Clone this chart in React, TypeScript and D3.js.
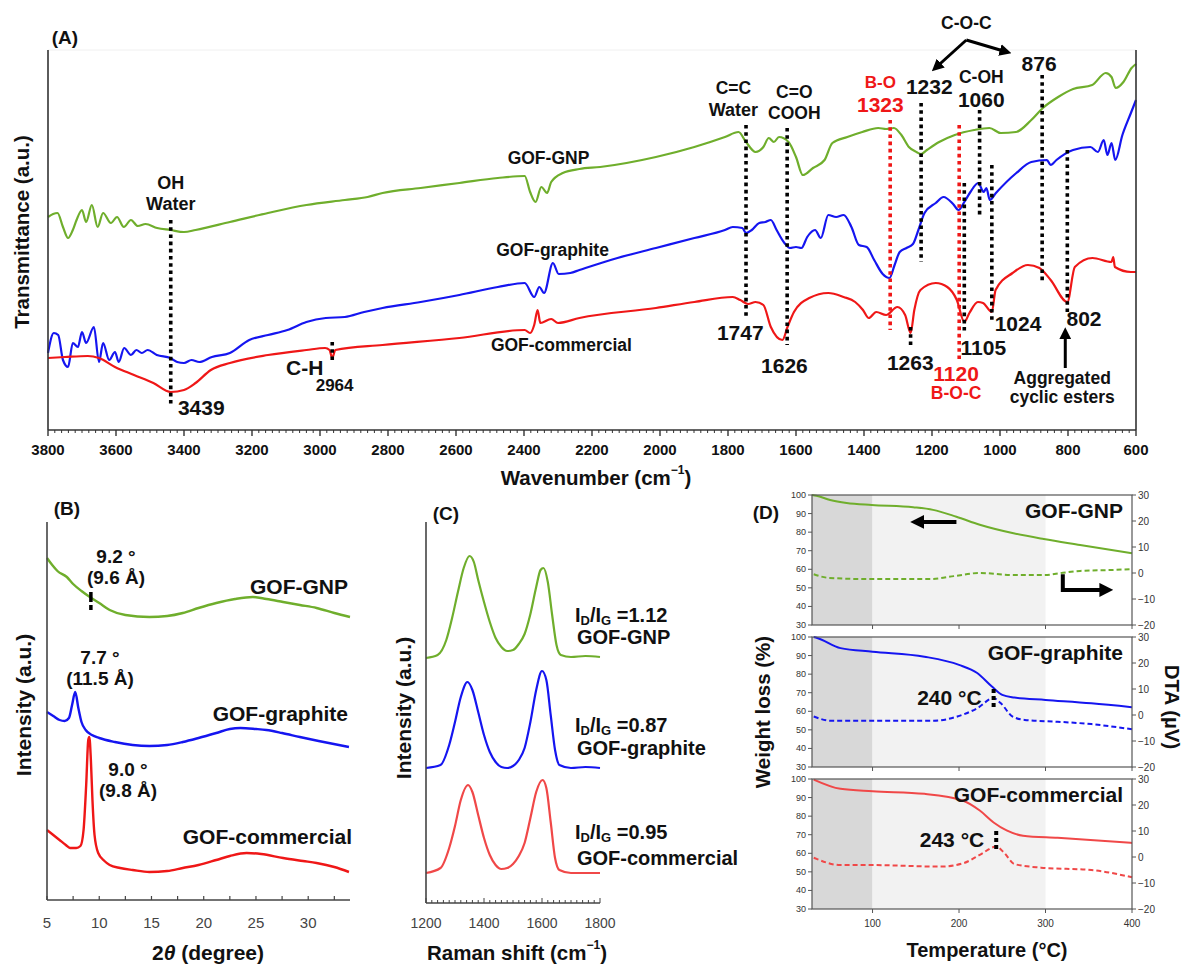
import React from 'react';
import * as d3 from 'd3';

type Pt = [number, number];

const FONT = "'Liberation Sans', Arial, Helvetica, sans-serif";
const GREEN = '#6fae2c';
const BLUE = '#1515f0';
const RED = '#ef1717';
const RED_SOFT = '#f04848';
const INK = '#111';
const AXIS = '#333';

// ---------- (A) FTIR spectra: [wavenumber cm-1, transmittance a.u.] ----------
const ftirGNP: Pt[] = [
  [3800, 213], [3785, 216], [3772, 217], [3756, 203], [3741, 192], [3727, 200], [3716, 210], [3700, 220],
  [3688, 208], [3671, 225], [3654, 203], [3638, 217], [3615, 207], [3597, 213], [3577, 203], [3556, 210],
  [3536, 204], [3513, 206], [3479, 202], [3440, 200], [3400, 198], [3366, 200], [3265, 208], [3153, 217],
  [3040, 225], [2927, 230], [2860, 233], [2816, 237], [2704, 242], [2590, 247], [2477, 252], [2398, 254],
  [2382, 238], [2366, 228], [2349, 243], [2332, 237], [2320, 248], [2286, 257], [2237, 261], [2176, 263],
  [2012, 273], [1899, 283], [1809, 293], [1769, 298], [1747, 288], [1719, 278], [1696, 283], [1680, 292],
  [1665, 288], [1650, 293], [1622, 288], [1600, 273], [1580, 255], [1550, 262], [1516, 270], [1493, 287],
  [1449, 293], [1405, 298], [1358, 302], [1335, 301], [1312, 302], [1290, 295], [1268, 283], [1246, 278],
  [1232, 276], [1215, 280], [1179, 288], [1133, 295], [1076, 300], [1031, 302], [998, 297], [953, 298],
  [908, 310], [874, 322], [829, 333], [785, 341], [729, 345], [689, 357], [672, 353], [660, 342],
  [637, 348], [613, 362], [600, 366],
];
const ftirGraphite: Pt[] = [
  [3800, 77], [3783, 97], [3770, 95], [3756, 70], [3741, 63], [3727, 87], [3712, 83], [3700, 98],
  [3688, 87], [3665, 103], [3650, 68], [3638, 87], [3620, 70], [3603, 78], [3592, 68], [3576, 82],
  [3556, 75], [3540, 80], [3524, 77], [3507, 80], [3480, 75], [3440, 72], [3420, 68], [3400, 67],
  [3378, 70], [3355, 68], [3318, 73], [3265, 77], [3208, 90], [3153, 95], [3096, 100], [3040, 108],
  [2983, 112], [2927, 113], [2870, 118], [2816, 122], [2704, 128], [2590, 135], [2477, 143], [2398, 147],
  [2370, 133], [2355, 143], [2341, 137], [2315, 167], [2298, 156], [2264, 157], [2237, 160], [2125, 172],
  [2012, 182], [1899, 192], [1809, 200], [1786, 203], [1758, 202], [1747, 197], [1730, 200], [1708, 207],
  [1690, 208], [1674, 210], [1657, 200], [1634, 187], [1618, 182], [1600, 183], [1584, 182], [1567, 193],
  [1544, 200], [1527, 192], [1505, 215], [1482, 213], [1460, 215], [1437, 203], [1415, 185], [1392, 183],
  [1370, 170], [1345, 156], [1325, 152], [1310, 165], [1295, 178], [1275, 182], [1256, 186], [1240, 200],
  [1222, 217], [1189, 227], [1166, 233], [1138, 226], [1122, 220], [1105, 228], [1087, 238], [1064, 247],
  [1048, 238], [1040, 242], [1030, 230], [1012, 237], [952, 257], [908, 268], [862, 270], [851, 265],
  [834, 270], [785, 280], [734, 283], [712, 278], [695, 290], [684, 275], [672, 287], [661, 270],
  [640, 295], [615, 317], [600, 330],
];
const ftirCommercial: Pt[] = [
  [3800, 72], [3750, 73], [3683, 74], [3650, 72], [3603, 63], [3547, 55], [3490, 47], [3439, 38],
  [3400, 40], [3366, 47], [3321, 60], [3265, 67], [3153, 75], [3040, 80], [2985, 82], [2972, 80],
  [2964, 72], [2955, 80], [2816, 85], [2590, 92], [2398, 100], [2382, 97], [2370, 105], [2360, 120],
  [2352, 107], [2320, 111], [2300, 107], [2237, 112], [2012, 122], [1899, 128], [1786, 133], [1764, 130],
  [1741, 126], [1719, 128], [1696, 125], [1674, 103], [1640, 90], [1625, 103], [1606, 118], [1561, 132],
  [1505, 137], [1460, 133], [1426, 128], [1403, 120], [1386, 112], [1364, 118], [1335, 115], [1302, 123],
  [1279, 115], [1263, 97], [1252, 120], [1234, 140], [1189, 147], [1155, 143], [1127, 130], [1105, 108],
  [1090, 117], [1065, 128], [1050, 127], [1024, 118], [1013, 140], [963, 157], [918, 165], [884, 162],
  [851, 150], [802, 128], [780, 163], [728, 172], [672, 168], [667, 173], [662, 163], [615, 158],
  [600, 158],
];

// band markers: wavenumber, dotted line from / to (a.u.), colour
const bandMarks: { wn: number; from: number; to: number; red?: boolean }[] = [
  { wn: 3439, from: 210, to: 25 },
  { wn: 2964, from: 88, to: 70 },
  { wn: 1747, from: 305, to: 113 },
  { wn: 1626, from: 302, to: 85 },
  { wn: 1323, from: 310, to: 100, red: true },
  { wn: 1263, from: 103, to: 82 },
  { wn: 1232, from: 327, to: 168 },
  { wn: 1120, from: 305, to: 70, red: true },
  { wn: 1105, from: 247, to: 97 },
  { wn: 1060, from: 320, to: 212 },
  { wn: 1024, from: 265, to: 110 },
  { wn: 876, from: 355, to: 148 },
  { wn: 802, from: 280, to: 117 },
];

// text placed on the FTIR panel: text, wavenumber, a.u., size, colour, anchor
const bandLabels: { t: string; wn: number; v: number; s: number; red?: boolean; a?: string }[] = [
  { t: 'OH', wn: 3439, v: 247, s: 18 },
  { t: 'Water', wn: 3439, v: 226, s: 18 },
  { t: 'GOF-GNP', wn: 2328, v: 272, s: 17.5 },
  { t: 'GOF-graphite', wn: 2316, v: 180, s: 17.5 },
  { t: 'GOF-commercial', wn: 2290, v: 85, s: 17.5 },
  { t: 'C-H', wn: 3045, v: 63, s: 21 },
  { t: '2964', wn: 2957, v: 45, s: 17 },
  { t: '3439', wn: 3418, v: 23, s: 21, a: 'start' },
  { t: '1747', wn: 1764, v: 98, s: 21 },
  { t: '1626', wn: 1634, v: 65, s: 21 },
  { t: '1263', wn: 1264, v: 68, s: 21 },
  { t: '1105', wn: 1049, v: 83, s: 21 },
  { t: '1120', wn: 1129, v: 57, s: 21, red: true },
  { t: 'B-O-C', wn: 1129, v: 37, s: 17.5, red: true },
  { t: '1024', wn: 947, v: 107, s: 21 },
  { t: '802', wn: 753, v: 112, s: 21 },
  { t: 'Aggregated', wn: 817, v: 52, s: 17.5 },
  { t: 'cyclic esters', wn: 817, v: 33, s: 17.5 },
  { t: 'C=C', wn: 1784, v: 342, s: 17.5 },
  { t: 'Water', wn: 1784, v: 320, s: 18 },
  { t: 'C=O', wn: 1605, v: 338, s: 17.5 },
  { t: 'COOH', wn: 1605, v: 317, s: 17.5 },
  { t: 'B-O', wn: 1352, v: 348, s: 17, red: true },
  { t: '1323', wn: 1352, v: 326, s: 21, red: true },
  { t: '1232', wn: 1208, v: 344, s: 21 },
  { t: 'C-OH', wn: 1055, v: 353, s: 17.5 },
  { t: '1060', wn: 1055, v: 331, s: 21 },
  { t: '876', wn: 885, v: 367, s: 21 },
  { t: 'C-O-C', wn: 1099, v: 407, s: 17.5 },
];

// ---------- (B) XRD patterns: [2θ degree, intensity a.u.] ----------
const xrdGNP: Pt[] = [
  [5.0, 342], [5.5, 335], [6.0, 329], [6.9, 323], [7.5, 316], [8.3, 309], [9.1, 303], [10.0, 297],
  [11.0, 290], [12.5, 285], [14.8, 283], [16.5, 284], [18.0, 287], [19.5, 292], [21.2, 297], [23.0, 301],
  [24.7, 303], [26.0, 301], [27.6, 298], [29.2, 295], [30.8, 292], [32.5, 287], [34.0, 283],
];
const xrdGraphite: Pt[] = [
  [5.0, 188], [5.6, 184], [6.2, 180], [6.7, 179], [7.1, 182], [7.4, 195], [7.7, 208], [8.0, 192],
  [8.3, 178], [8.7, 170], [9.3, 165], [10.0, 162], [11.5, 158], [13.2, 155], [14.8, 154], [16.5, 155],
  [18.0, 158], [19.5, 162], [21.2, 167], [22.5, 171], [23.5, 172], [25.0, 171], [26.0, 170], [27.5, 167],
  [29.2, 163], [31.0, 159], [33.9, 153],
];
const xrdCommercial: Pt[] = [
  [5.0, 70], [5.6, 65], [6.2, 60], [6.8, 55], [7.2, 52], [7.8, 52], [8.2, 54], [8.5, 70],
  [8.75, 115], [8.95, 160], [9.05, 163], [9.2, 140], [9.35, 100], [9.55, 65], [9.9, 47], [10.5, 39],
  [11.0, 35], [12.0, 32], [13.2, 30], [14.8, 28], [16.5, 29], [18.0, 32], [19.5, 35], [21.2, 40],
  [22.5, 44], [24.1, 47], [25.5, 46], [27.6, 42], [29.5, 39], [30.8, 37], [32.5, 33], [33.9, 28],
];

// ---------- (C) Raman spectra: [shift cm-1, intensity a.u.] ----------
const ramanGNP: Pt[] = [
  [1200, 245], [1240, 248], [1270, 263], [1290, 285], [1310, 311], [1330, 335], [1350, 347], [1365, 341],
  [1380, 323], [1400, 301], [1420, 281], [1440, 265], [1460, 256], [1480, 252], [1500, 253], [1520, 259],
  [1540, 269], [1560, 289], [1580, 316], [1595, 333], [1605, 335], [1620, 321], [1635, 288], [1650, 258],
  [1665, 248], [1700, 246], [1750, 247], [1800, 246],
];
const ramanGraphite: Pt[] = [
  [1200, 135], [1250, 138], [1280, 158], [1300, 181], [1320, 206], [1343, 221], [1360, 213], [1380, 191],
  [1400, 168], [1420, 151], [1440, 141], [1460, 136], [1480, 135], [1500, 137], [1520, 143], [1540, 155],
  [1560, 181], [1580, 213], [1600, 232], [1615, 223], [1630, 188], [1645, 153], [1660, 138], [1700, 135],
  [1750, 136], [1800, 135],
];
const ramanCommercial: Pt[] = [
  [1200, 30], [1250, 35], [1280, 55], [1300, 77], [1320, 103], [1345, 118], [1360, 111], [1380, 88],
  [1400, 65], [1420, 48], [1440, 38], [1460, 34], [1480, 35], [1500, 39], [1520, 47], [1540, 60],
  [1560, 85], [1580, 111], [1602, 123], [1615, 115], [1630, 81], [1645, 45], [1660, 33], [1700, 30],
  [1800, 30],
];
const ratioLabels = ['1.12', '0.87', '0.95'];

// ---------- (D) TG (%) and DTA (µV) vs temperature (°C) ----------
const tgGNP: Pt[] = [
  [30, 100], [35, 99.6], [51, 97.3], [70, 95.7], [99, 94.6], [147, 93.4], [170, 92], [197, 88.3],
  [224, 84], [263, 79.4], [298, 76.3], [340, 73.1], [400, 68.6],
];
const dtaGNP: Pt[] = [
  [32, -0.5], [50, -1.9], [90, -2.3], [168, -2.3], [194, -1.2], [224, 0], [263, -0.8], [298, -0.8],
  [320, 0.1], [340, 0.8], [380, 1.2], [400, 1.5],
];
const tgGraphite: Pt[] = [
  [32, 100], [36, 99.5], [63, 94], [100, 92.1], [160, 89.4], [200, 85], [221, 80.6], [238, 73.3],
  [250, 68.8], [264, 67.4], [300, 66.1], [353, 64.3], [400, 62.2],
];
const dtaGraphite: Pt[] = [
  [32, -0.6], [52, -2.2], [100, -2.2], [171, -2.2], [198, -0.6], [221, 2.6], [240, 6.5], [248, 4.6],
  [262, -0.6], [276, -1.9], [314, -2.6], [353, -3.5], [400, -5.5],
];
const tgCommercial: Pt[] = [
  [32, 99.7], [63, 94.7], [100, 93.4], [160, 92], [205, 88.3], [224, 83], [240, 76.6], [255, 72.3],
  [274, 69.5], [314, 68.3], [400, 65.6],
];
const dtaCommercial: Pt[] = [
  [32, -0.3], [63, -3.1], [100, -3.1], [179, -3.7], [205, -2.4], [224, 0.8], [243, 4.0], [252, 1.7],
  [264, -2.7], [295, -4.1], [353, -5], [400, -7.8],
];
const peakTemps = [240, 243];

// ---------- scales ----------
const xA = d3.scaleLinear().domain([3800, 600]).range([48, 1136]);
const yA = d3.scaleLinear().domain([0, 380]).range([430, 50]);
const xB = d3.scaleLinear().domain([5, 34]).range([47, 350]);
const yB = d3.scaleLinear().domain([0, 380]).range([900, 520]);
const xC = d3.scaleLinear().domain([1200, 1800]).range([426, 600]);
const yC = d3.scaleLinear().domain([0, 380]).range([903, 523]);
const xD = d3.scaleLinear().domain([30, 400]).range([812, 1132]);

const path = (data: Pt[], x: d3.ScaleLinear<number, number>, y: d3.ScaleLinear<number, number>) =>
  d3.line<Pt>().x(d => x(d[0])).y(d => y(d[1])).curve(d3.curveMonotoneX)(data) || '';

function T(props: any) {
  const { x, y, s = 16, a = 'middle', w = 'bold', fill = INK, rot, children, ...rest } = props;
  return (
    <text
      x={x}
      y={y}
      fontSize={s}
      fontWeight={w}
      textAnchor={a}
      dominantBaseline="central"
      fill={fill}
      transform={rot ? `rotate(${rot},${x},${y})` : undefined}
      {...rest}
    >
      {children}
    </text>
  );
}

function PanelA() {
  const majors = d3.range(3800, 599, -200);
  const minors = d3.range(3800, 599, -20).filter(v => v % 200 !== 0);
  return (
    <g>
      <T x={65} y={37} s={19}>(A)</T>
      <T x={21} y={232} s={20.5} rot={-90}>Transmittance (a.u.)</T>
      <line x1={48} x2={1136} y1={50} y2={50} stroke="#f0f0f0" strokeWidth={1} />
      <path d={path(ftirGNP, xA, yA)} fill="none" stroke={GREEN} strokeWidth={2.2} />
      <path d={path(ftirGraphite, xA, yA)} fill="none" stroke={BLUE} strokeWidth={2.2} />
      <path d={path(ftirCommercial, xA, yA)} fill="none" stroke={RED} strokeWidth={2.2} />
      {bandMarks.map((b, i) => (
        <line key={i} x1={xA(b.wn)} x2={xA(b.wn)} y1={yA(b.from)} y2={yA(b.to)}
          stroke={b.red ? RED : '#000'} strokeWidth={3.6} strokeDasharray="3.6 3.6" />
      ))}
      {bandLabels.map((l, i) => (
        <T key={i} x={xA(l.wn)} y={yA(l.v)} s={l.s} a={l.a || 'middle'} fill={l.red ? RED : INK}>{l.t}</T>
      ))}
      {/* C-O-C arrows */}
      <line x1={xA(1099)} y1={yA(390)} x2={xA(1190)} y2={yA(362)} stroke="#000" strokeWidth={3} markerEnd="url(#ah)" />
      <line x1={xA(1099)} y1={yA(390)} x2={xA(980)} y2={yA(378)} stroke="#000" strokeWidth={3} markerEnd="url(#ah)" />
      {/* cyclic esters arrow */}
      <line x1={xA(808)} y1={yA(62)} x2={xA(808)} y2={yA(98)} stroke="#000" strokeWidth={3} markerEnd="url(#ah)" />
      {/* axes */}
      <line x1={48} x2={48} y1={50} y2={430} stroke={AXIS} strokeWidth={1.6} />
      <line x1={1136} x2={1136} y1={50} y2={430} stroke={AXIS} strokeWidth={1.6} />
      <line x1={48} x2={1136} y1={430} y2={430} stroke={AXIS} strokeWidth={1.6} />
      {minors.map(v => (
        <line key={v} x1={xA(v)} x2={xA(v)} y1={430} y2={433} stroke={AXIS} strokeWidth={1} />
      ))}
      {majors.map(v => (
        <g key={v}>
          <line x1={xA(v)} x2={xA(v)} y1={430} y2={436} stroke={AXIS} strokeWidth={1.4} />
          <T x={xA(v)} y={449} s={15}>{v}</T>
        </g>
      ))}
      <T x={596} y={477} s={20.5}>
        Wavenumber (cm<tspan dy={-7} fontSize={12}>−1</tspan><tspan dy={7}>)</tspan>
      </T>
    </g>
  );
}

function PanelB() {
  const ticks = d3.range(5, 34, 2.5);
  return (
    <g>
      <T x={67} y={508} s={19}>(B)</T>
      <T x={23} y={705} s={21} rot={-90}>Intensity (a.u.)</T>
      <path d={path(xrdGNP, xB, yB)} fill="none" stroke={GREEN} strokeWidth={2.4} />
      <path d={path(xrdGraphite, xB, yB)} fill="none" stroke={BLUE} strokeWidth={2.4} />
      <path d={path(xrdCommercial, xB, yB)} fill="none" stroke={RED} strokeWidth={2.4} />
      <line x1={xB(9.2)} x2={xB(9.2)} y1={yB(308)} y2={yB(290)} stroke="#000" strokeWidth={3.5} strokeDasharray="10 3 5" />
      <T x={116} y={556} s={19}>9.2 °</T>
      <T x={116} y={577} s={19}>(9.6 Å)</T>
      <T x={100} y={657} s={19}>7.7 °</T>
      <T x={100} y={678} s={19}>(11.5 Å)</T>
      <T x={128} y={769} s={19}>9.0 °</T>
      <T x={128} y={790} s={19}>(9.8 Å)</T>
      <T x={348} y={586} s={21} a="end">GOF-GNP</T>
      <T x={348} y={713} s={21} a="end">GOF-graphite</T>
      <T x={352} y={836} s={21} a="end">GOF-commercial</T>
      <line x1={47} x2={47} y1={522} y2={900} stroke="#444" strokeWidth={1.6} />
      <line x1={47} x2={350} y1={900} y2={900} stroke="#444" strokeWidth={1.6} />
      {ticks.map(v => (
        <line key={v} x1={xB(v)} x2={xB(v)} y1={900} y2={896} stroke="#444" strokeWidth={1.2} />
      ))}
      {d3.range(5, 31, 5).map(v => (
        <T key={v} x={xB(v)} y={922} s={15} w="normal" fill="#444">{v}</T>
      ))}
      <T x={208} y={952} s={21}>
        2<tspan fontStyle="italic">θ</tspan> (degree)
      </T>
    </g>
  );
}

function PanelC() {
  const ticks = d3.range(1200, 1801, 20);
  const rows = [
    { y1: 615, y2: 637, name: 'GOF-GNP' },
    { y1: 725, y2: 748, name: 'GOF-graphite' },
    { y1: 832, y2: 858, name: 'GOF-commercial' },
  ];
  return (
    <g>
      <T x={446} y={513} s={19}>(C)</T>
      <T x={403} y={708} s={21} rot={-90}>Intensity (a.u.)</T>
      <path d={path(ramanGNP, xC, yC)} fill="none" stroke={GREEN} strokeWidth={2.2} />
      <path d={path(ramanGraphite, xC, yC)} fill="none" stroke={BLUE} strokeWidth={2.2} />
      <path d={path(ramanCommercial, xC, yC)} fill="none" stroke={RED_SOFT} strokeWidth={2.2} />
      {rows.map((r, i) => (
        <g key={i}>
          <T x={575} y={r.y1} s={20} a="start">
            I<tspan dy={5} fontSize={13}>D</tspan><tspan dy={-5}>/I</tspan>
            <tspan dy={5} fontSize={13}>G</tspan><tspan dy={-5}>{i === 1 ? '  =' : ' ='}{ratioLabels[i]}</tspan>
          </T>
          <T x={577} y={r.y2} s={20} a="start">{r.name}</T>
        </g>
      ))}
      <line x1={426} x2={426} y1={522} y2={903} stroke="#444" strokeWidth={1.6} />
      <line x1={426} x2={600} y1={903} y2={903} stroke="#444" strokeWidth={1.6} />
      {ticks.map(v => (
        <line key={v} x1={xC(v)} x2={xC(v)} y1={903} y2={v % 200 === 0 ? 898 : 900} stroke="#444" strokeWidth={1} />
      ))}
      {[1200, 1400, 1600, 1800].map(v => (
        <T key={v} x={xC(v)} y={923} s={14} w="normal" fill="#444">{v}</T>
      ))}
      <T x={517} y={952} s={20.5}>
        Raman shift (cm<tspan dy={-7} fontSize={12}>−1</tspan><tspan dy={7}>)</tspan>
      </T>
    </g>
  );
}

function SubD(props: {
  top: number; tg: Pt[]; dta: Pt[]; color: string; name: string; last: boolean; peak?: number;
}) {
  const { top, tg, dta, color, name, last, peak } = props;
  const h = 130;
  const yL = d3.scaleLinear().domain([30, 100]).range([top + h, top]);
  const yR = d3.scaleLinear().domain([-20, 30]).range([top + h, top]);
  const lineL = d3.line<Pt>().x(d => xD(d[0])).y(d => yL(d[1])).curve(d3.curveMonotoneX);
  const lineR = d3.line<Pt>().x(d => xD(d[0])).y(d => yR(d[1])).curve(d3.curveMonotoneX);
  return (
    <g>
      <rect x={xD(30)} y={top} width={xD(100) - xD(30)} height={h} fill="#d8d8d8" />
      <rect x={xD(100)} y={top} width={xD(300) - xD(100)} height={h} fill="#f2f2f2" />
      <path d={lineL(tg) || ''} fill="none" stroke={color} strokeWidth={2} />
      <path d={lineR(dta) || ''} fill="none" stroke={color} strokeWidth={2} strokeDasharray="5 3" />
      <rect x={xD(30)} y={top} width={xD(400) - xD(30)} height={h} fill="none" stroke="#555" strokeWidth={1.2} />
      {d3.range(30, 101, 10).map(v => (
        <g key={v}>
          <line x1={xD(30) - 4} x2={xD(30)} y1={yL(v)} y2={yL(v)} stroke="#555" />
          <T x={xD(30) - 6} y={yL(v)} s={9} w="normal" a="end" fill="#333">{v}</T>
        </g>
      ))}
      {d3.range(-20, 31, 10).map(v => (
        <g key={v}>
          <line x1={xD(400)} x2={xD(400) + 4} y1={yR(v)} y2={yR(v)} stroke="#555" />
          <T x={xD(400) + 6} y={yR(v)} s={10} w="normal" a="start" fill="#333">{v < 0 ? `−${-v}` : v}</T>
        </g>
      ))}
      {[100, 200, 300, 400].map(v => (
        <g key={v}>
          <line x1={xD(v)} x2={xD(v)} y1={top + h} y2={top + h + 4} stroke="#555" />
          {last && <T x={xD(v)} y={top + h + 14} s={10} w="normal" fill="#333">{v}</T>}
        </g>
      ))}
      <T x={xD(400) - 9} y={top + 15} s={21} a="end">{name}</T>
      {peak !== undefined && (
        <g>
          <line x1={xD(peak)} x2={xD(peak)} y1={yL(72)} y2={yL(62)} stroke="#000" strokeWidth={4} strokeDasharray="4 3" />
          <T x={xD(peak) - 12} y={yL(67.5)} s={21} a="end">{peak} °C</T>
        </g>
      )}
    </g>
  );
}

function PanelD() {
  const top1 = 495;
  const yL1 = d3.scaleLinear().domain([30, 100]).range([top1 + 130, top1]);
  const yR1 = d3.scaleLinear().domain([-20, 30]).range([top1 + 130, top1]);
  return (
    <g>
      <T x={766} y={512} s={19}>(D)</T>
      <SubD top={495} tg={tgGNP} dta={dtaGNP} color={GREEN} name="GOF-GNP" last={false} />
      <SubD top={637} tg={tgGraphite} dta={dtaGraphite} color={BLUE} name="GOF-graphite" last={false} peak={peakTemps[0]} />
      <SubD top={779} tg={tgCommercial} dta={dtaCommercial} color={RED_SOFT} name="GOF-commercial" last={true} peak={peakTemps[1]} />
      {/* axis pointers */}
      <line x1={xD(197)} x2={xD(150)} y1={yL1(85.5)} y2={yL1(85.5)} stroke="#000" strokeWidth={4} markerEnd="url(#ah2)" />
      <polyline points={`${xD(320)},${yR1(-0.5)} ${xD(320)},${yR1(-6.5)} ${xD(372)},${yR1(-6.5)}`}
        fill="none" stroke="#000" strokeWidth={4} markerEnd="url(#ah2)" />
      <T x={762} y={712} s={20.5} rot={-90}>Weight loss (%)</T>
      <T x={1172} y={707} s={20.5} rot={90}>DTA (µV)</T>
      <T x={987} y={950} s={20}>Temperature (°C)</T>
    </g>
  );
}

export default function App() {
  return (
    <svg width={1184} height={965} viewBox="0 0 1184 965" fontFamily={FONT}
      style={{ position: 'absolute', left: 0, top: 0, background: '#fff' }}>
      <defs>
        <marker id="ah" viewBox="0 0 10 10" refX="6" refY="5" markerWidth="4" markerHeight="4" orient="auto">
          <path d="M0,0 L10,5 L0,10 z" fill="#000" />
        </marker>
        <marker id="ah2" viewBox="0 0 10 10" refX="6" refY="5" markerWidth="3.5" markerHeight="3.5" orient="auto">
          <path d="M0,0 L10,5 L0,10 z" fill="#000" />
        </marker>
      </defs>
      <rect width={1184} height={965} fill="#fff" />
      <PanelA />
      <PanelB />
      <PanelC />
      <PanelD />
    </svg>
  );
}
